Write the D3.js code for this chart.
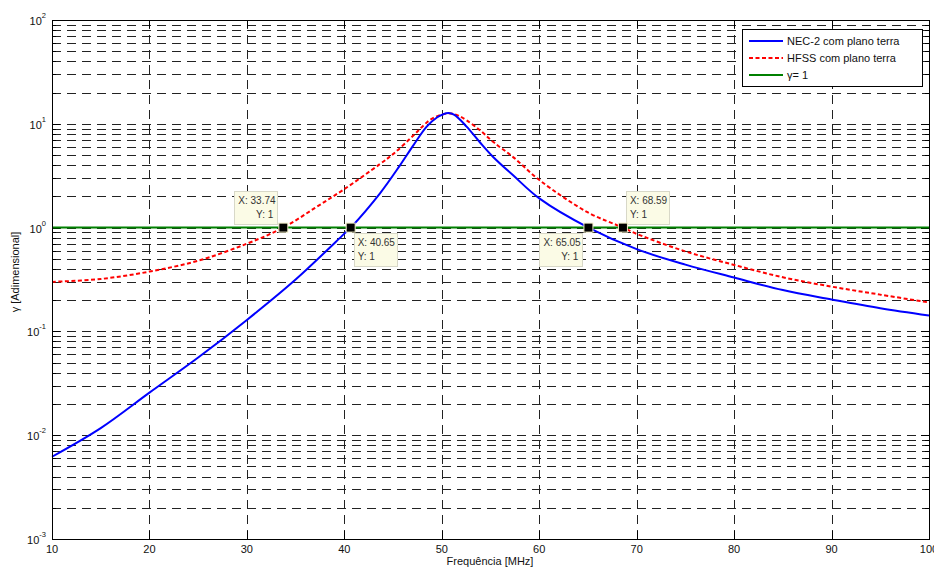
<!DOCTYPE html>
<html>
<head>
<meta charset="utf-8">
<script src="https://cdn.jsdelivr.net/npm/d3@7"></script>
<style>
  body { margin: 0; background: #fff; }
  svg { font-family: "Liberation Sans", Arial, sans-serif; }
</style>
</head>
<body>
<svg id="chart" width="934" height="568"></svg>
<script>
// values
const freqNec = [10, 15, 20, 25, 30, 35, 40, 40.65, 43.66, 45.71, 47.08, 48.45, 49.5, 50.1, 50.67, 51.3, 52.55, 53.93, 55.3, 57.35, 60.08, 65.05, 70, 75, 80, 85, 90, 95, 100];
const gammaNec = [0.0062, 0.0117, 0.0257, 0.056, 0.129, 0.316, 0.875, 1, 2.14, 3.98, 6.2, 9.4, 11.5, 12.3, 12.7, 12.2, 9.4, 6.6, 4.76, 3.17, 1.89, 1, 0.62, 0.44, 0.33, 0.25, 0.203, 0.167, 0.142];

const freqHfss = [10, 15, 20, 25, 30, 33.74, 37, 40, 43.66, 45.03, 47.08, 48.1, 48.8, 49.8, 50.85, 51.7, 52.55, 53.93, 55.3, 57.35, 60.08, 65, 68.59, 70, 75, 80, 85, 90, 95, 100];
const gammaHfss = [0.30, 0.32, 0.377, 0.48, 0.70, 1, 1.55, 2.35, 4.1, 5.13, 7.7, 9.6, 10.9, 12.1, 12.6, 12.0, 10.8, 8.65, 6.67, 4.75, 2.84, 1.40, 1, 0.87, 0.59, 0.437, 0.332, 0.27, 0.226, 0.19];

const freqRef = [10, 100];
const gammaRef = [1, 1];

const xTicks = [10, 20, 30, 40, 50, 60, 70, 80, 90, 100];
const yExps = [-3, -2, -1, 0, 1, 2];

const legendLabels = ['NEC-2 com plano terra', 'HFSS com plano terra', 'γ= 1'];

const tipX = [33.74, 40.65, 65.05, 68.59];
const tipY = [1, 1, 1, 1];

const svg = d3.select('#chart');
const plotL = 52, plotR = 929, plotT = 20, plotB = 539;

const x = d3.scaleLinear().domain([10, 100]).range([plotL, plotR]);
const y = d3.scaleLog().domain([1e-3, 1e2]).range([plotB, plotT]);

// minor log values 2..9 x decade
const yMinor = [];
for (let e = -3; e < 2; e++) {
  for (let m = 2; m <= 9; m++) yMinor.push(m * Math.pow(10, e));
}
const yMajor = yExps.map(e => Math.pow(10, e));

const grid = svg.append('g').attr('stroke', '#222').attr('stroke-width', 1)
  .attr('stroke-dasharray', '9,6').attr('shape-rendering', 'crispEdges');
grid.selectAll('.gy').data(yMinor.concat(yMajor.slice(1, -1))).enter().append('line')
  .attr('x1', plotL).attr('x2', plotR)
  .attr('y1', d => Math.round(y(d)) + 0.5).attr('y2', d => Math.round(y(d)) + 0.5);
grid.selectAll('.gx').data(xTicks.slice(1, -1)).enter().append('line')
  .attr('y1', plotB).attr('y2', plotT)
  .attr('x1', d => Math.round(x(d)) + 0.5).attr('x2', d => Math.round(x(d)) + 0.5);

// ticks (inside, all four sides)
const ticks = svg.append('g').attr('stroke', '#000').attr('stroke-width', 1).attr('shape-rendering', 'crispEdges');
yMinor.forEach(v => {
  const yy = Math.round(y(v)) + 0.5;
  ticks.append('line').attr('x1', plotL).attr('x2', plotL + 4).attr('y1', yy).attr('y2', yy);
  ticks.append('line').attr('x1', plotR - 4).attr('x2', plotR).attr('y1', yy).attr('y2', yy);
});
yMajor.forEach(v => {
  const yy = Math.round(y(v)) + 0.5;
  ticks.append('line').attr('x1', plotL).attr('x2', plotL + 8).attr('y1', yy).attr('y2', yy);
  ticks.append('line').attr('x1', plotR - 8).attr('x2', plotR).attr('y1', yy).attr('y2', yy);
});
xTicks.forEach(v => {
  const xx = Math.round(x(v)) + 0.5;
  ticks.append('line').attr('x1', xx).attr('x2', xx).attr('y1', plotB).attr('y2', plotB - 8);
  ticks.append('line').attr('x1', xx).attr('x2', xx).attr('y1', plotT).attr('y2', plotT + 8);
});

// curves
const line = d3.line().x(d => x(d[0])).y(d => y(d[1])).curve(d3.curveCatmullRom.alpha(0.5));
const plot = svg.append('g');
plot.append('path').datum(d3.zip(freqRef, gammaRef)).attr('d', line)
  .attr('fill', 'none').attr('stroke', '#008000').attr('stroke-width', 2);
plot.append('path').datum(d3.zip(freqHfss, gammaHfss)).attr('d', line)
  .attr('fill', 'none').attr('stroke', '#ff0000').attr('stroke-width', 2).attr('stroke-dasharray', '4,2.5');
plot.append('path').datum(d3.zip(freqNec, gammaNec)).attr('d', line)
  .attr('fill', 'none').attr('stroke', '#0000ff').attr('stroke-width', 2);

// frame
svg.append('rect').attr('x', plotL + 0.5).attr('y', plotT + 0.5)
  .attr('width', plotR - plotL).attr('height', plotB - plotT)
  .attr('fill', 'none').attr('stroke', '#000').attr('stroke-width', 1);

// tick labels
svg.append('g').selectAll('text').data(xTicks).enter().append('text')
  .attr('x', d => x(d)).attr('y', plotB + 14).attr('text-anchor', 'middle')
  .attr('font-size', 11).attr('fill', '#111').text(d => d);

const yl = svg.append('g').selectAll('text').data(yExps).enter().append('text')
  .attr('x', 46).attr('y', d => y(Math.pow(10, d)) + 5).attr('text-anchor', 'end')
  .attr('font-size', 11).attr('fill', '#111');
yl.append('tspan').text('10');
yl.append('tspan').attr('font-size', 7.5).attr('dy', -7).text(d => d);

// axis titles
svg.append('text').attr('x', 490).attr('y', 565).attr('text-anchor', 'middle')
  .attr('font-size', 11).attr('fill', '#111').text('Frequência [MHz]');
svg.append('text').attr('transform', 'translate(19,272) rotate(-90)').attr('text-anchor', 'middle')
  .attr('font-size', 11).attr('fill', '#111').text('γ [Adimensional]');

// datatips
const placement = ['nw', 'se', 'sw', 'ne'];
const tips = svg.append('g');
tipX.forEach((fx, i) => {
  const px = x(fx), py = y(tipY[i]);
  const p = placement[i];
  const w = 43, h = 33;
  const bx = p.includes('w') ? px - 6 - w : px + 3;
  const by = p.includes('n') ? py - 4 - h : py + 5;
  tips.append('rect').attr('x', Math.round(bx) + 0.5).attr('y', Math.round(by) + 0.5)
    .attr('width', w).attr('height', h).attr('fill', '#fbfbe6').attr('stroke', '#d8d8c8');
  tips.append('text').attr('x', bx + 4).attr('y', by + 13).attr('font-size', 10).attr('fill', '#333')
    .text('X: ' + fx.toFixed(2));
  const rightAlign = p.includes('w');
  tips.append('text').attr('x', rightAlign ? bx + w - 4 : bx + 4).attr('y', by + 27)
    .attr('text-anchor', rightAlign ? 'end' : 'start').attr('font-size', 10).attr('fill', '#333')
    .text('Y: ' + tipY[i]);
  tips.append('rect').attr('x', px - 4.5).attr('y', py - 4.5).attr('width', 9).attr('height', 9)
    .attr('fill', '#000').attr('stroke', '#f4f0c8').attr('stroke-width', 1);
});

// legend
const lg = svg.append('g').attr('transform', 'translate(742,29)');
lg.append('rect').attr('x', 0.5).attr('y', 0.5).attr('width', 180).attr('height', 57)
  .attr('fill', '#fff').attr('stroke', '#000');
const legStyles = [
  { color: '#0000ff', dash: null },
  { color: '#ff0000', dash: '4,2.5' },
  { color: '#008000', dash: null }
];
legendLabels.forEach((label, i) => {
  const ly = 12 + i * 17;
  lg.append('line').attr('x1', 7).attr('x2', 41).attr('y1', ly).attr('y2', ly)
    .attr('stroke', legStyles[i].color).attr('stroke-width', 2)
    .attr('stroke-dasharray', legStyles[i].dash);
  lg.append('text').attr('x', 45).attr('y', ly + 4).attr('font-size', 11).attr('fill', '#111').text(label);
});
</script>
</body>
</html>
